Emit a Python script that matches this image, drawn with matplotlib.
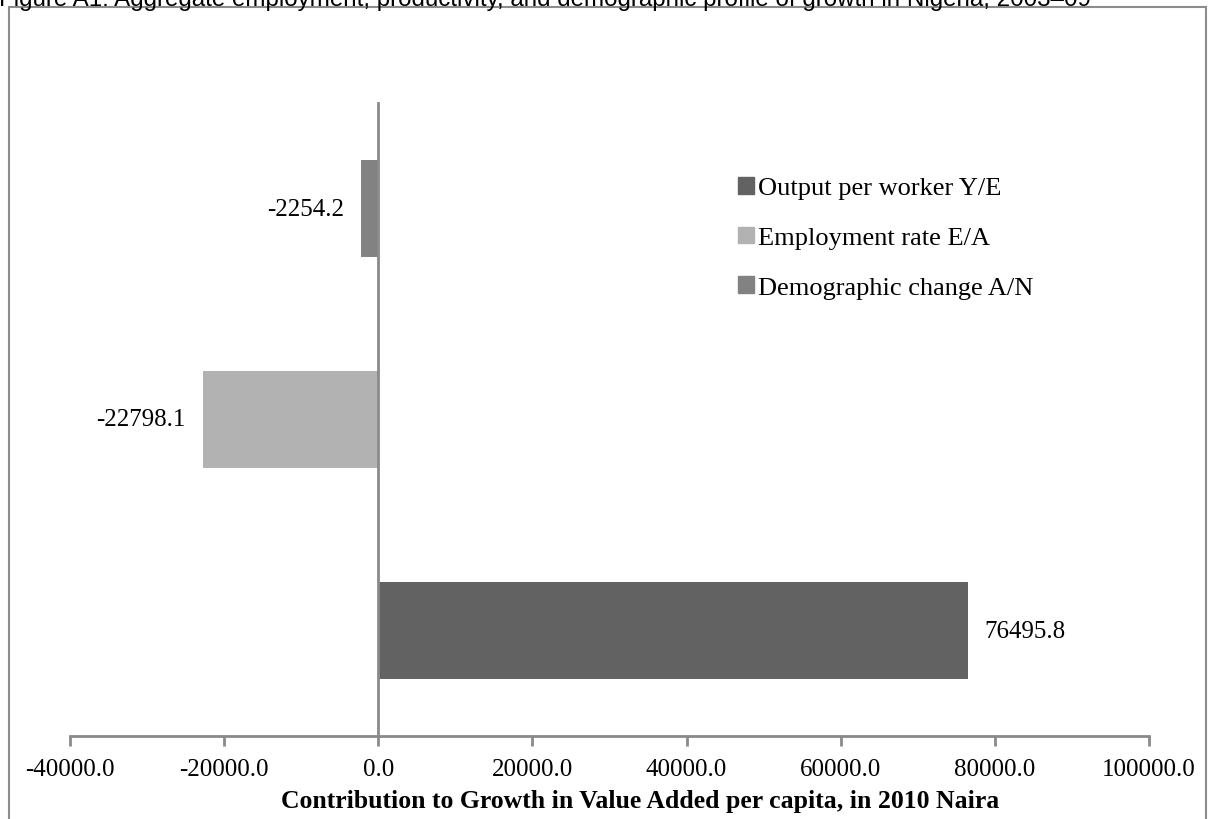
import numpy as np
import matplotlib
matplotlib.use("Agg")
import matplotlib.pyplot as plt
from matplotlib.patches import Patch, Rectangle

# values
series_names = ["Output per worker Y/E", "Employment rate E/A", "Demographic change A/N"]
contributions = [76495.8, -22798.1, -2254.2]
bar_colors = ["#626262", "#b2b2b2", "#828282"]
x_ticks = [-40000, -20000, 0, 20000, 40000, 60000, 80000, 100000]

title_text = ("Figure A1: Aggregate employment, productivity, and demographic "
              "profile of growth in Nigeria, 2003\u201309")
x_label = "Contribution to Growth in Value Added per capita, in 2010 Naira"

W, H = 1208, 820
fig = plt.figure(figsize=(W / 100, H / 100), dpi=100)

def fx(px):
	return px / W

def fy(py):
	# pixel row from top -> figure fraction from bottom
	return 1 - py / H

serif = ["Liberation Serif", "DejaVu Serif"]
axis_grey = "#8a8a8a"

ax_left, ax_right, ax_top, ax_bottom = 70, 1149, 104, 737
ax = fig.add_axes([fx(ax_left), fy(ax_bottom), fx(ax_right - ax_left), (ax_bottom - ax_top) / H])

ypos = np.arange(len(contributions))
bars = ax.barh(ypos, contributions, height=0.455, color=bar_colors, zorder=2)

ax.set_xlim(-40000, 100000)
ax.set_ylim(-0.5, 2.5)
ax.set_xticks(x_ticks)
ax.set_xticklabels(["%.1f" % t for t in x_ticks], fontsize=18, family=serif)
ax.set_yticks([])

for side in ["top", "right"]:
	ax.spines[side].set_visible(False)
ax.spines["left"].set_position(("data", 0))
ax.spines["left"].set_color(axis_grey)
ax.spines["left"].set_linewidth(2)
ax.spines["left"].set_zorder(3)
ax.spines["bottom"].set_color(axis_grey)
ax.spines["bottom"].set_linewidth(2)
ax.tick_params(axis="x", direction="out", length=7, width=2, color=axis_grey, pad=9)

# data labels beside each bar
for rect, val in zip(bars, contributions):
	yc = rect.get_y() + rect.get_height() / 2
	if val >= 0:
		ax.annotate("%.1f" % val, (val, yc), xytext=(12, 0), textcoords="offset points",
		            ha="left", va="center", fontsize=18, family=serif)
	else:
		ax.annotate("%.1f" % val, (val, yc), xytext=(-12, 0), textcoords="offset points",
		            ha="right", va="center", fontsize=18, family=serif)

handles = [Patch(color=c, label=n) for c, n in zip(bar_colors, series_names)]
leg = fig.legend(handles=handles, loc="upper left", bbox_to_anchor=(fx(714), fy(154)),
                 frameon=False, prop={"family": serif, "size": 19},
                 handlelength=0.6, handleheight=0.6, handletextpad=0.15, labelspacing=1.03)

fig.text(fx(640), fy(808), x_label, ha="center", va="baseline", fontsize=18.5,
         family=serif, fontweight="bold")

# outer chart frame (bottom edge cut off in the source)
fig.patches.append(Rectangle((fx(9), fy(900)), fx(1206 - 9), (900 - 8) / H,
                             transform=fig.transFigure, fill=False,
                             edgecolor="#8c8c8c", linewidth=1.5))

# caption, mostly cropped off at the top as in the source
fig.text(fx(-1), fy(6), title_text, ha="left", va="baseline", fontsize=17.4,
         family=["Liberation Sans", "DejaVu Sans"])

fig.savefig("out.png", dpi=100)
